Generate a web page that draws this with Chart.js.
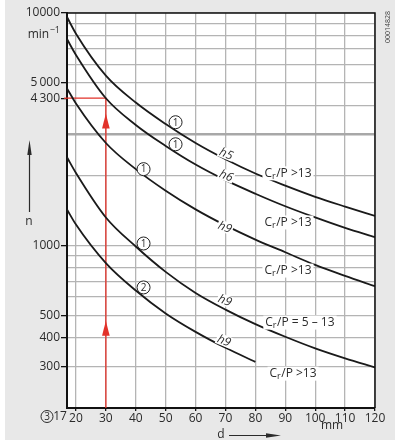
<!DOCTYPE html>
<html><head><meta charset="utf-8">
<script src="https://cdn.jsdelivr.net/npm/chart.js@4/dist/chart.umd.min.js"></script>
<style>html,body{margin:0;padding:0;background:#fff}canvas{display:block}</style>
</head><body>
<canvas id="c" width="395" height="445"></canvas>
<script>
// ---- data ----
const dValues = [17, 20, 30, 40, 50, 60, 70, 80, 90, 100, 110, 120];
const dShort  = [17, 20, 30, 40, 50, 60, 70, 80];
const nH5   = [9610, 8150, 5380, 4120, 3330, 2760, 2350, 2040, 1810, 1620, 1470, 1340];
const nH6   = [7725, 6600, 4300, 3300, 2680, 2230, 1910, 1670, 1475, 1320, 1190, 1085];
const nH9a  = [4740, 4080, 2760, 2130, 1720, 1430, 1220, 1060, 935, 825, 740, 668];
const nH9b  = [2395, 2050, 1320, 990, 770, 625, 530, 459, 405, 361, 327, 299];
const nH9c  = [1430, 1230, 840, 640, 510, 425, 363, 316];
const exampleD = 30;
const exampleN = 4300;
const xTicks = [17, 20, 30, 40, 50, 60, 70, 80, 90, 100, 110, 120];
const yGrid  = [200, 300, 400, 500, 600, 700, 800, 900, 1000, 2000, 3000, 4000, 4300, 5000, 6000, 7000, 8000, 9000, 10000];
const yLabels = {10000: '10000', 5000: '5\u2009000', 4300: '4\u2009300', 1000: '1000', 500: '500', 400: '400', 300: '300'};
const circleLabels = [
  {d: 53.3, n: 3390, t: '1'}, {d: 53.3, n: 2725, t: '1'},
  {d: 42.6, n: 2130, t: '1'}, {d: 42.6, n: 1020, t: '1'}, {d: 42.6, n: 660, t: '2'}
];
const hLabels = [
  {d: 70.2, n: 2470, t: '5'}, {d: 70.2, n: 1990, t: '6'},
  {d: 69.8, n: 1195, t: '9'}, {d: 69.8, n: 578, t: '9'}, {d: 69.5, n: 388, t: '9'}
];
const crLabels = [
  {d: 90.9, n: 2043, t: ' >13'}, {d: 90.9, n: 1256, t: ' >13'}, {d: 90.9, n: 780, t: ' >13'},
  {d: 94.9, n: 466, t: ' = 5 \u2013 13'}, {d: 92.6, n: 281, t: ' >13'}
];
const arrowTips = [3700, 475];

const FONT = "'Open Sans', 'DejaVu Sans', sans-serif";
const TXT = '#2b2b2b';
const pts = (xs, ys) => ys.map((y, i) => ({x: xs[i], y}));

const deco = {
  id: 'deco',
  beforeDraw(chart) {
    const {ctx, chartArea: a} = chart;
    ctx.save();
    ctx.fillStyle = '#fff'; ctx.fillRect(0, 0, chart.width, chart.height);
    ctx.fillStyle = '#e8e8e8'; ctx.fillRect(5, 0, chart.width - 5, 440);
    ctx.fillStyle = '#fff'; ctx.fillRect(a.left, a.top, a.right - a.left, a.bottom - a.top);
    ctx.restore();
  },
  afterDatasetsDraw(chart) {
    const {ctx, chartArea: a, scales: {x, y}} = chart;
    ctx.save();
    // frame top / right
    ctx.strokeStyle = '#111'; ctx.lineWidth = 1.5;
    ctx.beginPath(); ctx.moveTo(a.left, a.top); ctx.lineTo(a.right, a.top); ctx.lineTo(a.right, a.bottom); ctx.stroke();
    // red arrows
    ctx.fillStyle = '#e2322a';
    const ax = x.getPixelForValue(exampleD);
    arrowTips.forEach(v => {
      const ty = y.getPixelForValue(v);
      ctx.beginPath(); ctx.moveTo(ax, ty); ctx.lineTo(ax + 3.8, ty + 15); ctx.lineTo(ax - 3.8, ty + 15); ctx.closePath(); ctx.fill();
    });
    // red tick extension at 4300
    const ry = y.getPixelForValue(exampleN);
    ctx.strokeStyle = '#e2322a'; ctx.lineWidth = 1.3;
    ctx.beginPath(); ctx.moveTo(a.left - 3, ry); ctx.lineTo(a.left, ry); ctx.stroke();
    // circled labels
    circleLabels.forEach(c => {
      const px = x.getPixelForValue(c.d), py = y.getPixelForValue(c.n);
      ctx.beginPath(); ctx.arc(px, py, 6.5, 0, Math.PI * 2);
      ctx.fillStyle = '#fff'; ctx.fill(); ctx.strokeStyle = '#222'; ctx.lineWidth = 1; ctx.stroke();
      ctx.fillStyle = TXT; ctx.font = '10px ' + FONT; ctx.textAlign = 'center'; ctx.textBaseline = 'middle';
      ctx.fillText(c.t, px, py + 0.5);
    });
    // h labels
    hLabels.forEach(h => {
      const px = x.getPixelForValue(h.d), py = y.getPixelForValue(h.n);
      ctx.save(); ctx.translate(px, py); ctx.rotate(22 * Math.PI / 180);
      ctx.fillStyle = '#fff'; ctx.fillRect(-8, -6, 16, 11);
      ctx.fillStyle = TXT; ctx.font = 'italic 12px ' + FONT; ctx.textAlign = 'center'; ctx.textBaseline = 'middle';
      ctx.fillText('h' + h.t, 0, 0);
      ctx.restore();
    });
    // Cr/P labels
    crLabels.forEach(c => {
      const px = x.getPixelForValue(c.d), py = y.getPixelForValue(c.n);
      ctx.font = '12px ' + FONT;
      const wC = ctx.measureText('C').width;
      ctx.font = '9px ' + FONT;
      const wr = ctx.measureText('r').width;
      ctx.font = '12px ' + FONT;
      const rest = '/P' + c.t;
      const wRest = ctx.measureText(rest).width;
      const w = wC + wr + 0.5 + wRest;
      const x0 = px - w / 2;
      ctx.fillStyle = '#fff'; ctx.fillRect(x0 - 2, py - 7, w + 4, 14);
      ctx.fillStyle = TXT; ctx.textAlign = 'left'; ctx.textBaseline = 'middle';
      ctx.fillText('C', x0, py);
      ctx.font = '9px ' + FONT; ctx.fillText('r', x0 + wC, py + 3);
      ctx.font = '12px ' + FONT; ctx.fillText(rest, x0 + wC + wr + 0.5, py);
    });
    ctx.restore();
  },
  afterDraw(chart) {
    const {ctx, chartArea: a, scales: {x, y}} = chart;
    ctx.save();
    ctx.fillStyle = TXT; ctx.strokeStyle = TXT;
    // min^-1
    ctx.font = '12px ' + FONT; ctx.textAlign = 'right'; ctx.textBaseline = 'alphabetic';
    ctx.font = '9px ' + FONT; const ws = ctx.measureText('\u22121').width;
    ctx.fillText('\u22121', a.left - 7, 33);
    ctx.font = '12px ' + FONT; ctx.fillText('min', a.left - 7 - ws - 0.5, 38);
    // 17 and circled 3
    const x17 = x.getPixelForValue(17);
    ctx.textAlign = 'center'; ctx.textBaseline = 'middle';
    ctx.fillText('17', x17 - 7, 416.5);
    ctx.beginPath(); ctx.arc(x17 - 20, 416.5, 6, 0, Math.PI * 2); ctx.lineWidth = 1; ctx.stroke();
    ctx.font = '10px ' + FONT; ctx.fillText('3', x17 - 20, 417);
    // mm
    ctx.font = '12px ' + FONT; ctx.fillText('mm', 332, 426);
    // d arrow
    ctx.fillText('d', 221, 435);
    ctx.lineWidth = 1.2; ctx.beginPath(); ctx.moveTo(229, 435.5); ctx.lineTo(268, 435.5); ctx.stroke();
    ctx.beginPath(); ctx.moveTo(281, 435.5); ctx.lineTo(266, 433.3); ctx.lineTo(266, 437.7); ctx.closePath(); ctx.fill();
    // n arrow
    ctx.fillText('n', 29, 222);
    ctx.beginPath(); ctx.moveTo(29.5, 212); ctx.lineTo(29.5, 152); ctx.stroke();
    ctx.beginPath(); ctx.moveTo(29.5, 140); ctx.lineTo(27.3, 155); ctx.lineTo(31.7, 155); ctx.closePath(); ctx.fill();
    // id text
    ctx.save(); ctx.translate(388, 27); ctx.rotate(-Math.PI / 2);
    ctx.font = '7px ' + FONT; ctx.fillStyle = '#444'; ctx.fillText('00014828', 0, 0);
    ctx.restore();
    ctx.restore();
  }
};

const black = {borderColor: '#1a1a1a', borderWidth: 1.8, pointRadius: 0, cubicInterpolationMode: 'monotone', fill: false, order: 1};

new Chart(document.getElementById('c'), {
  type: 'line',
  data: {
    datasets: [
      {...black, label: 'h5', data: pts(dValues, nH5)},
      {...black, label: 'h6', data: pts(dValues, nH6)},
      {...black, label: 'h9 a', data: pts(dValues, nH9a)},
      {...black, label: 'h9 b', data: pts(dValues, nH9b)},
      {...black, label: 'h9 c', data: pts(dShort, nH9c)},
      {label: 'example', data: [{x: 17, y: exampleN}, {x: exampleD, y: exampleN}, {x: exampleD, y: 200}],
       borderColor: '#e2322a', borderWidth: 1.3, pointRadius: 0, tension: 0, order: 5}
    ]
  },
  options: {
    responsive: false, animation: false, devicePixelRatio: 1,
    layout: {padding: {top: 13, right: 20, left: 0, bottom: 0}},
    plugins: {legend: {display: false}, tooltip: {enabled: false}},
    scales: {
      x: {
        type: 'linear', min: 17, max: 120,
        afterBuildTicks: s => { s.ticks = xTicks.map(v => ({value: v})); },
        afterFit: s => { s.height = 37; },
        ticks: {autoSkip: false, maxRotation: 0, padding: 0, color: TXT, font: {family: FONT, size: 12},
                callback: v => v === 17 ? '' : String(v)},
        grid: {color: c => c.tick && c.tick.value === 17 ? 'rgba(0,0,0,0)' : '#b4b4b4', lineWidth: 1.3,
               tickLength: 3, tickColor: c => c.tick && c.tick.value === 17 ? 'rgba(0,0,0,0)' : '#111'},
        border: {color: '#111', width: 2}
      },
      y: {
        type: 'logarithmic', min: 200, max: 10000,
        afterBuildTicks: s => { s.ticks = yGrid.map(v => ({value: v})); },
        afterFit: s => { s.width = 67; },
        ticks: {autoSkip: false, padding: 1, color: TXT, font: {family: FONT, size: 12},
                callback: v => yLabels[v] || ''},
        grid: {
          color: c => (c.tick && (c.tick.value === 4300 || c.tick.value === 200)) ? 'rgba(0,0,0,0)' : (c.tick && c.tick.value === 3000 ? '#a8a8a8' : '#b4b4b4'),
          lineWidth: c => c.tick && c.tick.value === 3000 ? 2.6 : 1.3,
          tickLength: 6,
          tickColor: c => c.tick && yLabels[c.tick.value] ? '#111' : 'rgba(0,0,0,0)'
        },
        border: {color: '#111', width: 2}
      }
    }
  },
  plugins: [deco]
});
</script>
</body></html>
